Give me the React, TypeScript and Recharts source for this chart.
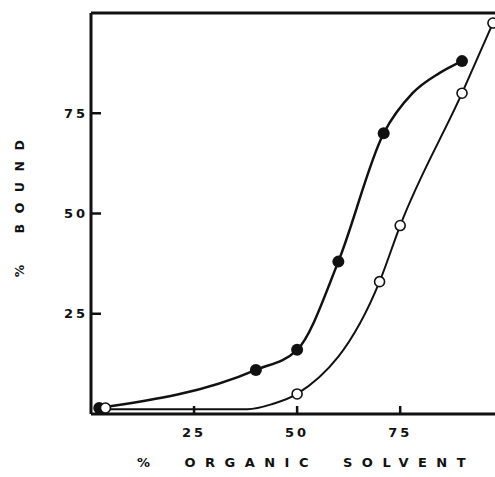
import { ComposedChart, Label, Line, ReferenceLine, Scatter, XAxis, YAxis } from 'recharts'

// values (% organic solvent vs % bound)
const filledSolvent = [2, 40, 50, 60, 71, 90]
const filledBound = [1.5, 11, 16, 38, 70, 88]
const openSolvent = [3.5, 50, 70, 75, 90, 97.5]
const openBound = [1.5, 5, 33, 47, 80, 97.5]

// hand-drawn fitted curves
const filledCurveSolvent = [2, 40, 50, 60, 71, 78, 84.5, 90]
const filledCurveBound = [1.5, 11, 16, 38, 70, 80, 85, 88]
const openCurveSolvent = [3.5, 38, 44, 50, 70, 75, 90, 97.5]
const openCurveBound = [1.2, 1.2, 2.5, 5, 33, 47, 80, 97.5]

const xTicks = [25, 50, 75]
const yTicks = [25, 50, 75]

const toPoints = (xs: number[], ys: number[]) => xs.map((x, i) => ({ x, y: ys[i] }))

const filledPoints = toPoints(filledSolvent, filledBound)
const openPoints = toPoints(openSolvent, openBound)
const filledCurve = toPoints(filledCurveSolvent, filledCurveBound)
const openCurve = toPoints(openCurveSolvent, openCurveBound)

const INK = '#111'
const FONT = '"DejaVu Sans", Verdana, sans-serif'

const tickStyle = { fill: INK, fontSize: 13, fontWeight: 700, fontFamily: FONT, letterSpacing: 3 }

const FilledDot = (props: any) => <circle cx={props.cx} cy={props.cy} r={6} fill={INK} />
const OpenDot = (props: any) => (
  <circle cx={props.cx} cy={props.cy} r={5} fill="#fff" stroke={INK} strokeWidth={1.6} />
)

const YTitle = ({ viewBox }: any) => {
  const cx = viewBox.x + 19
  const cy = viewBox.y + viewBox.height / 2 - 10
  return (
    <text
      x={cx}
      y={cy}
      transform={`rotate(-90 ${cx} ${cy})`}
      textAnchor="middle"
      dominantBaseline="central"
      fill={INK}
      fontSize={12.5}
      fontWeight={700}
      fontFamily={FONT}
      style={{ letterSpacing: 10.5, wordSpacing: 6 }}
    >
      % BOUND
    </text>
  )
}

const XTitle = ({ viewBox }: any) => {
  const cx = viewBox.x + viewBox.width / 2 + 13
  const cy = viewBox.y + viewBox.height - 10
  return (
    <text
      x={cx}
      y={cy}
      textAnchor="middle"
      fill={INK}
      fontSize={13}
      fontWeight={700}
      fontFamily={FONT}
      style={{ letterSpacing: 9.5, wordSpacing: 11 }}
    >
      % ORGANIC SOLVENT
    </text>
  )
}

export default function App() {
  return (
    <div style={{ position: 'absolute', left: 0, top: 0, background: '#fff' }}>
      <ComposedChart
        width={495}
        height={477}
        margin={{ top: 13, right: 0, bottom: 0, left: 0 }}
        style={{ fontFamily: FONT }}
      >
        <XAxis
          type="number"
          dataKey="x"
          domain={[0, 98]}
          ticks={xTicks}
          interval={0}
          height={63}
          tickSize={-8}
          tickMargin={22}
          axisLine={{ stroke: INK, strokeWidth: 3 }}
          tickLine={{ stroke: INK, strokeWidth: 2.5 }}
          tick={tickStyle}
        >
          <Label content={<XTitle />} />
        </XAxis>
        <YAxis
          type="number"
          dataKey="y"
          domain={[0, 100]}
          ticks={yTicks}
          interval={0}
          width={91}
          tickSize={-10}
          tickMargin={13}
          axisLine={{ stroke: INK, strokeWidth: 3 }}
          tickLine={{ stroke: INK, strokeWidth: 2.5 }}
          tick={tickStyle}
        >
          <Label content={<YTitle />} />
        </YAxis>
        <ReferenceLine y={100} stroke={INK} strokeWidth={3} />
        <Line
          data={filledCurve}
          dataKey="y"
          type="monotone"
          stroke={INK}
          strokeWidth={2.5}
          dot={false}
          activeDot={false}
          isAnimationActive={false}
        />
        <Line
          data={openCurve}
          dataKey="y"
          type="monotone"
          stroke={INK}
          strokeWidth={2}
          dot={false}
          activeDot={false}
          isAnimationActive={false}
        />
        <Scatter data={filledPoints} dataKey="y" shape={<FilledDot />} isAnimationActive={false} />
        <Scatter data={openPoints} dataKey="y" shape={<OpenDot />} isAnimationActive={false} />
      </ComposedChart>
    </div>
  )
}
